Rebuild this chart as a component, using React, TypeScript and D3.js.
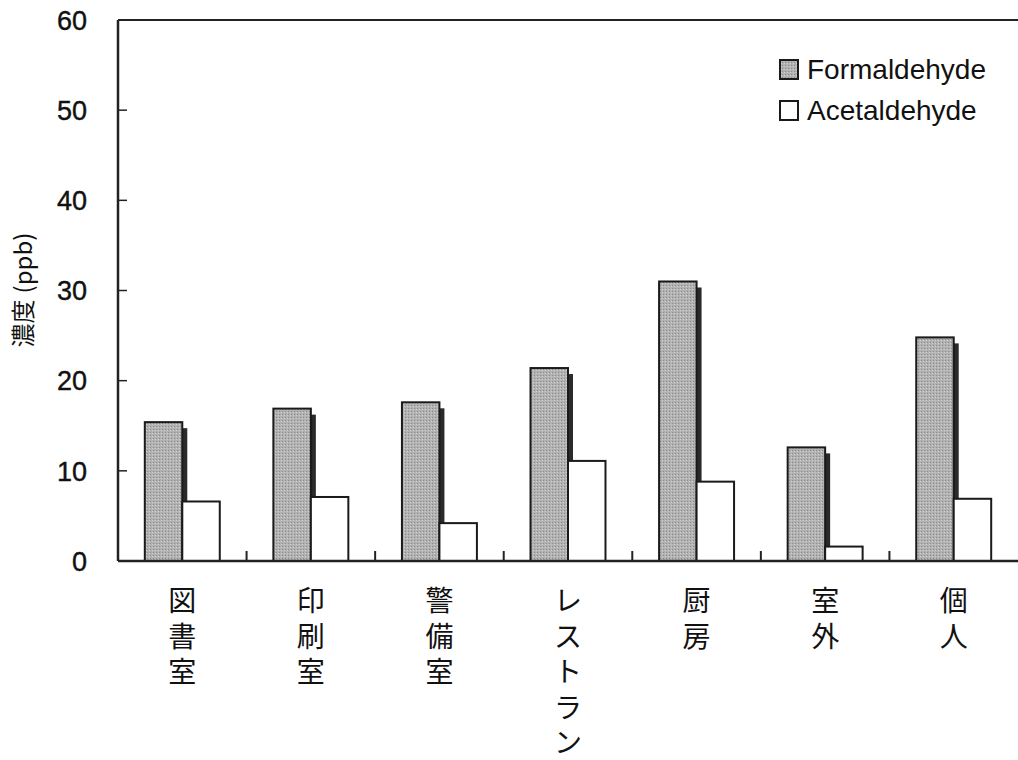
import * as d3 from 'd3'

const categories = ['図書室', '印刷室', '警備室', 'レストラン', '厨房', '室外', '個人']
const formaldehyde = [15.4, 16.9, 17.6, 21.4, 31.0, 12.6, 24.8]
const acetaldehyde = [6.6, 7.1, 4.2, 11.1, 8.8, 1.6, 6.9]
const seriesNames = ['Formaldehyde', 'Acetaldehyde']
const yTicks = [0, 10, 20, 30, 40, 50, 60]

const W = 1018
const H = 760
const left = 118
const right = 1018
const top = 20
const bottom = 561

const jpFont = '"Noto Sans CJK JP", "Noto Sans", sans-serif'
const numFont = '"Liberation Sans", Arial, sans-serif'
const grey = '#b2b2b2'

export default function App() {
  const x = d3.scaleBand<string>().domain(categories).range([left, right]).padding(0)
  const inner = d3.scaleBand<string>()
    .domain(seriesNames)
    .range([0, x.bandwidth()])
    .paddingInner(0)
    .paddingOuter(0.715)
  const y = d3.scaleLinear().domain([0, 60]).range([bottom, top])
  const bw = inner.bandwidth()

  return (
    <svg width={W} height={H} style={{ position: 'absolute', left: 0, top: 0, background: '#fff' }}>
      <defs>
        <pattern id="dots" width="3" height="3" patternUnits="userSpaceOnUse">
          <rect width="3" height="3" fill={grey} />
          <rect width="1" height="1" fill="#8a8a8a" />
          <rect x="2" y="1" width="1" height="1" fill="#d0d0d0" />
        </pattern>
      </defs>

      {/* y tick labels */}
      {yTicks.map(t => (
        <text key={t} x={87} y={y(t)} dy="0.36em" textAnchor="end"
          fontFamily={numFont} fontSize={27} fill="#111" stroke="#111" strokeWidth={0.4}>{t}</text>
      ))}
      {yTicks.filter(t => t > 0 && t < 60).map(t => (
        <line key={t} x1={left} x2={left + 9} y1={y(t)} y2={y(t)} stroke="#222" strokeWidth={1.5} />
      ))}

      {/* axis title */}
      <text transform="translate(24,290) rotate(-90)" textAnchor="middle" dy="0.35em"
        fontFamily={jpFont} fontSize={24} fill="#111">
        濃度<tspan dx={6}>(ppb)</tspan>
      </text>

      {/* bars */}
      {categories.map((c, i) => {
        const x0 = (x(c) ?? 0) + (inner('Formaldehyde') ?? 0)
        const x1 = (x(c) ?? 0) + (inner('Acetaldehyde') ?? 0)
        return (
          <g key={c}>
            <rect x={x0 + bw} y={y(formaldehyde[i]) + 6} width={5} height={bottom - y(formaldehyde[i]) - 6} fill="#2a2a2a" />
            <rect x={x0} y={y(formaldehyde[i])} width={bw} height={bottom - y(formaldehyde[i])}
              fill="url(#dots)" stroke="#1a1a1a" strokeWidth={2} />
            <rect x={x1} y={y(acetaldehyde[i])} width={bw} height={bottom - y(acetaldehyde[i])}
              fill="#fff" stroke="#1a1a1a" strokeWidth={2} />
          </g>
        )
      })}

      {/* x category ticks */}
      {categories.slice(1).map(c => (
        <line key={c} x1={x(c)} x2={x(c)} y1={bottom} y2={bottom - 10} stroke="#222" strokeWidth={2} />
      ))}

      {/* frame lines */}
      <line x1={left} x2={right} y1={top} y2={top} stroke="#222" strokeWidth={2} />
      <line x1={left} x2={left} y1={top} y2={bottom} stroke="#222" strokeWidth={2.5} />
      <line x1={left} x2={right} y1={bottom} y2={bottom} stroke="#222" strokeWidth={2.5} />

      {/* category labels, one character per line */}
      {categories.map(c => (
        <g key={c}>
          {Array.from(c).map((ch, k) => (
            <text key={k} x={(x(c) ?? 0) + x.bandwidth() / 2} y={599 + k * 35.5}
              dominantBaseline="central" textAnchor="middle"
              fontFamily={jpFont} fontSize={28} fill="#111">{ch}</text>
          ))}
        </g>
      ))}

      {/* legend */}
      {seriesNames.map((s, i) => (
        <g key={s} transform={`translate(779,${59 + i * 41})`}>
          <rect x={1} y={1} width={18} height={19} fill={i === 0 ? 'url(#dots)' : '#fff'} stroke="#1a1a1a" strokeWidth={2} />
          <text x={28} y={20} fontFamily={numFont} fontSize={28} fill="#111">{s}</text>
        </g>
      ))}
    </svg>
  )
}
